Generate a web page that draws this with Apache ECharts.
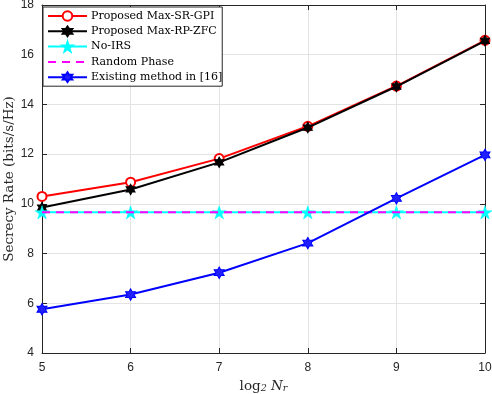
<!DOCTYPE html>
<html><head><meta charset="utf-8">
<script src="https://cdn.jsdelivr.net/npm/echarts@6/dist/echarts.min.js"></script>
<style>html,body{margin:0;padding:0;background:#fff}#c{width:492px;height:394px}</style>
</head><body><div id="c"></div>
<script>
var xValues = [5, 6, 7, 8, 9, 10];
var maxSRGPI = [10.30, 10.87, 11.82, 13.12, 14.74, 16.58];
var maxRPZFC = [9.85, 10.58, 11.67, 13.07, 14.72, 16.56];
var noIRS = [9.66, 9.66, 9.66, 9.66, 9.66, 9.66];
var randomPhase = [9.66, 9.66, 9.66, 9.66, 9.66, 9.66];
var existing16 = [5.76, 6.35, 7.23, 8.42, 10.22, 11.97];
var seriesNames = ['Proposed Max-SR-GPI', 'Proposed Max-RP-ZFC', 'No-IRS', 'Random Phase', 'Existing method in [16]'];

function pts(arr){ return xValues.map(function(x,i){ return [x, arr[i]]; }); }
var hexagram = 'path://M50 0L64.43 25L93.3 25L78.87 50L93.3 75L64.43 75L50 100L35.57 75L6.7 75L21.13 50L6.7 25L35.57 25Z';
var pentagram = 'path://M50 0L61.23 34.55L97.55 34.55L68.17 55.9L79.39 90.45L50 69.1L20.61 90.45L31.83 55.9L2.45 34.55L38.77 34.55Z';
var serif = 'DejaVu Serif';
var sans = 'Liberation Sans';
var axisCol = '#262626';

var chart = echarts.init(document.getElementById('c'), null, {renderer:'canvas'});
chart.setOption({
  animation: false,
  backgroundColor: '#fff',
  grid: {left: 42, right: 7, top: 5, bottom: 41, containLabel: false, outerBoundsMode: 'none'},
  legend: {
    left: 43, top: 7, orient: 'vertical',
    data: [seriesNames[0], seriesNames[1], seriesNames[2],
           {name: seriesNames[3], itemStyle: {color: 'rgba(0,0,0,0)', borderColor: 'rgba(0,0,0,0)', borderWidth: 0}},
           seriesNames[4]],
    itemWidth: 39, itemHeight: 12, itemGap: 3.3,
    padding: [3, 0, 3, 4],
    backgroundColor: '#fff', borderColor: axisCol, borderWidth: 1, borderRadius: 0,
    textStyle: {fontFamily: serif, fontSize: 11, lineHeight: 12, color: '#000', padding: [0,0,0,-1]}
  },
  xAxis: [{
    type: 'value', min: 5, max: 10, interval: 1,
    name: '{a|log}{s|2}{a| }{i|N}{s|r}', nameLocation: 'middle', nameGap: 25, nameMoveOverlap: false,
    nameTextStyle: {rich: {
      a: {fontFamily: serif, fontSize: 13.5, color: axisCol},
      i: {fontFamily: serif, fontSize: 13.5, fontStyle: 'italic', color: axisCol},
      s: {fontFamily: serif, fontSize: 9.5, fontStyle: 'italic', color: axisCol, verticalAlign: 'bottom', padding:[6,0,0,0]}
    }},
    axisLine: {show: true, lineStyle: {color: axisCol, width: 1}},
    axisTick: {show: true, inside: true, length: 5, lineStyle: {color: axisCol}},
    axisLabel: {fontFamily: sans, fontSize: 12, color: axisCol, margin: 9},
    splitLine: {show: true, lineStyle: {color: '#e3e3e3', width: 1}}
  }, {
    type: 'value', min: 5, max: 10, interval: 1, position: 'top',
    axisLine: {show: true, onZero: false, lineStyle: {color: axisCol, width: 1}},
    axisTick: {show: true, inside: true, length: 5, lineStyle: {color: axisCol}},
    axisLabel: {show: false}, splitLine: {show: false}
  }],
  yAxis: [{
    type: 'value', min: 4, max: 18, interval: 2,
    name: 'Secrecy Rate (bits/s/Hz)', nameLocation: 'middle', nameGap: 26, nameMoveOverlap: false,
    nameTextStyle: {fontFamily: serif, fontSize: 13.5, color: axisCol},
    axisLine: {show: true, lineStyle: {color: axisCol, width: 1}},
    axisTick: {show: true, inside: true, length: 5, lineStyle: {color: axisCol}},
    axisLabel: {fontFamily: sans, fontSize: 12, color: axisCol, margin: 8},
    splitLine: {show: true, lineStyle: {color: '#e3e3e3', width: 1}}
  }, {
    type: 'value', min: 4, max: 18, interval: 2, position: 'right',
    axisLine: {show: true, onZero: false, lineStyle: {color: axisCol, width: 1}},
    axisTick: {show: true, inside: true, length: 5, lineStyle: {color: axisCol}},
    axisLabel: {show: false}, splitLine: {show: false}
  }],
  series: [
    {name: seriesNames[0], type: 'line', data: pts(maxSRGPI), color: '#ff0000',
     lineStyle: {width: 2, color: '#ff0000'}, symbol: 'circle', symbolSize: 9,
     itemStyle: {color: '#fff', borderColor: '#ff0000', borderWidth: 2}, z: 2},
    {name: seriesNames[1], type: 'line', data: pts(maxRPZFC), color: '#000',
     lineStyle: {width: 2, color: '#000'}, symbol: hexagram, symbolSize: [9, 10.5],
     itemStyle: {color: '#000', borderColor: '#000', borderWidth: 1}, z: 3},
    {name: seriesNames[2], type: 'line', data: pts(noIRS), color: '#00ffff',
     lineStyle: {width: 2, color: '#00ffff'}, symbol: pentagram, symbolSize: [14, 13.3],
     itemStyle: {color: '#00ffff', borderColor: '#00ffff', borderWidth: 0.5}, z: 4},
    {name: seriesNames[3], type: 'line', data: pts(randomPhase), color: '#ff00ff',
     lineStyle: {width: 2, color: '#ff00ff', type: [8, 6]}, symbol: 'none', z: 5},
    {name: seriesNames[4], type: 'line', data: pts(existing16), color: '#0000ff',
     lineStyle: {width: 2, color: '#0000ff'}, symbol: hexagram, symbolSize: [10, 11.5],
     itemStyle: {color: '#2020ff', borderColor: '#0000ff', borderWidth: 1}, z: 6}
  ]
});
</script></body></html>
